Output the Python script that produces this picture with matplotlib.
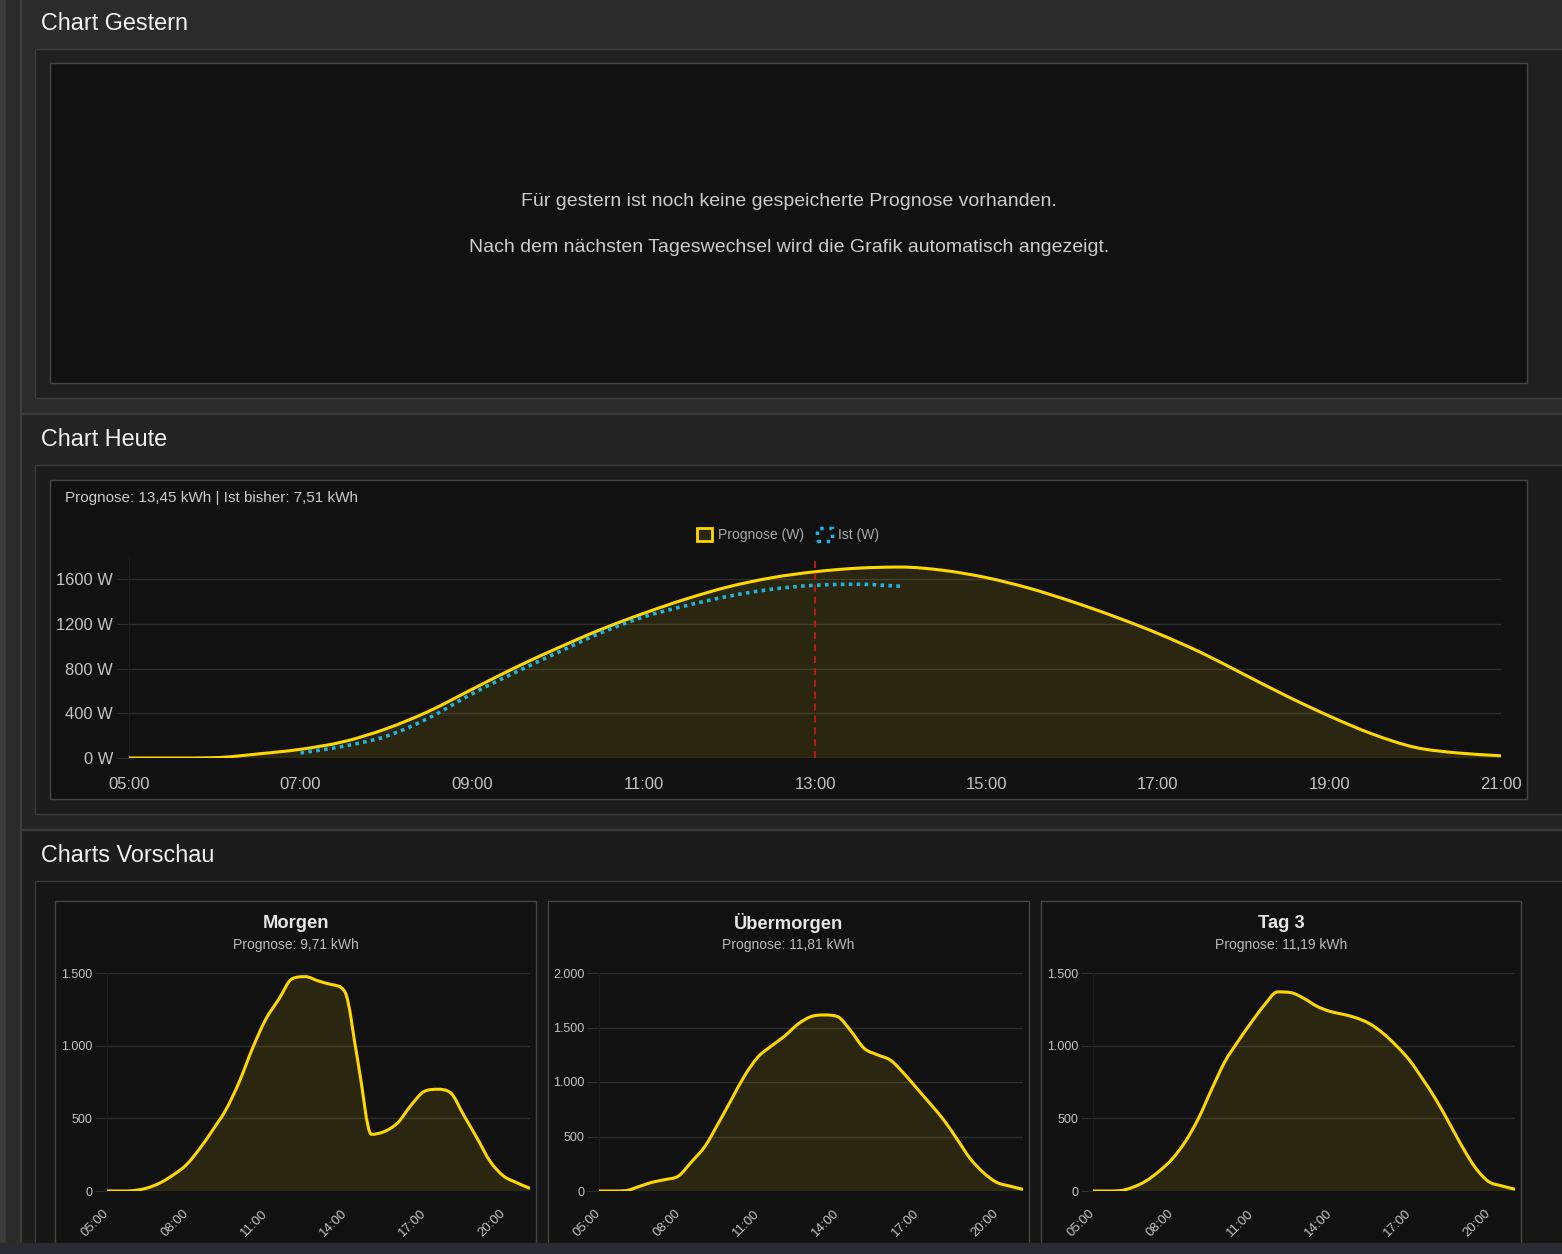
import numpy as np
import matplotlib
matplotlib.use("Agg")
import matplotlib.pyplot as plt
from matplotlib.patches import Rectangle, Patch, PathPatch
from matplotlib.path import Path
from matplotlib.ticker import FuncFormatter

plt.rcParams['font.family'] = ['Liberation Sans', 'DejaVu Sans']

# Zeitachse (halbstuendlich, 05:00 bis 21:00)
hours = np.arange(5, 21.01, 0.5)

# Chart Heute
heute_prognose = [0, 0, 3, 36, 78, 146, 262, 420, 615, 808, 985, 1150, 1295, 1425,
                  1535, 1615, 1668, 1700, 1710, 1680, 1615, 1520, 1400, 1265, 1115,
                  945, 750, 555, 375, 215, 95, 45, 20]
ist_hours = np.arange(7, 14.01, 0.5)
heute_ist = [45, 105, 195, 360, 575, 765, 945, 1120, 1263, 1365, 1450, 1512, 1547, 1556, 1538]
jetzt = 13.0
heute_ticks = [5, 7, 9, 11, 13, 15, 17, 19, 21]
heute_yticks = [0, 400, 800, 1200, 1600]

# Charts Vorschau
vorschau_titel = ["Morgen", "Übermorgen", "Tag 3"]
vorschau_summe = ["Prognose: 9,71 kWh", "Prognose: 11,81 kWh", "Prognose: 11,19 kWh"]
morgen = [0, 0, 3, 20, 55, 110, 180, 290, 420, 560, 750, 980, 1180, 1320, 1460, 1475,
          1445, 1420, 1370, 880, 390, 410, 470, 590, 685, 700, 675, 520, 363, 202, 103, 57, 18]
uebermorgen = [0, 0, 3, 40, 80, 105, 138, 270, 410, 620, 840, 1060, 1230, 1330, 1420, 1530,
               1600, 1615, 1600, 1470, 1310, 1250, 1200, 1080, 940, 800, 655, 480, 300, 170,
               80, 45, 15]
tag3 = [0, 0, 2, 25, 68, 135, 220, 340, 500, 700, 890, 1030, 1160, 1280, 1370, 1365, 1325,
        1270, 1235, 1215, 1190, 1150, 1085, 1000, 900, 770, 630, 470, 305, 160, 65, 35, 12]
vorschau_werte = [morgen, uebermorgen, tag3]
vorschau_ymax = [1500, 2000, 1500]
vorschau_ticks = [5, 8, 11, 14, 17, 20]

GELB = '#ffd700'
BLAU = '#1cb4e3'
GRID = '#2e2e2e'
FILL_ALPHA = 0.11

W, H = 1562, 1254
fig = plt.figure(figsize=(W / 100, H / 100), dpi=100)
fig.patch.set_facecolor('#1a1a1a')


def box(x0, y0, x1, y1, fc, ec=None, lw=1.0, z=-5):
    fig.patches.append(Rectangle((x0 / W, 1 - y1 / H), (x1 - x0) / W, (y1 - y0) / H,
                                 transform=fig.transFigure, facecolor=fc,
                                 edgecolor=ec if ec else fc, lw=lw, zorder=z))


def axes_px(x0, y0, x1, y1):
    ax = fig.add_axes([x0 / W, 1 - y1 / H, (x1 - x0) / W, (y1 - y0) / H])
    ax.set_facecolor('none')
    return ax


def ftext(x, y, s, **kw):
    fig.text(x / W, 1 - y / H, s, **kw)


def kurve(x, y):
    # monotone kubische Kurve wie bei Chart.js (cubicInterpolationMode: 'monotone')
    x = np.asarray(x, float)
    y = np.asarray(y, float)
    h = np.diff(x)
    d = np.diff(y) / h
    m = np.zeros_like(y)
    m[0], m[-1] = d[0], d[-1]
    for k in range(1, len(y) - 1):
        m[k] = 0 if d[k - 1] * d[k] <= 0 else (d[k - 1] + d[k]) / 2
    for k in range(len(d)):
        if d[k] == 0:
            m[k] = m[k + 1] = 0
            continue
        a, b = m[k] / d[k], m[k + 1] / d[k]
        s = a * a + b * b
        if s > 9:
            t = 3 / np.sqrt(s)
            m[k], m[k + 1] = t * a * d[k], t * b * d[k]
    verts = [(x[0], y[0])]
    codes = [Path.MOVETO]
    for k in range(len(h)):
        verts += [(x[k] + h[k] / 3, y[k] + m[k] * h[k] / 3),
                  (x[k + 1] - h[k] / 3, y[k + 1] - m[k + 1] * h[k] / 3),
                  (x[k + 1], y[k + 1])]
        codes += [Path.CURVE4] * 3
    return verts, codes


def zeichne(ax, x, y, color, lw, ls='-', fill=False):
    verts, codes = kurve(x, y)
    if fill:
        fv = verts + [(x[-1], 0), (x[0], 0), (x[0], 0)]
        fc = codes + [Path.LINETO, Path.LINETO, Path.CLOSEPOLY]
        ax.add_patch(PathPatch(Path(fv, fc), facecolor=color, alpha=FILL_ALPHA,
                               lw=0, zorder=2))
    ax.add_patch(PathPatch(Path(verts, codes), facecolor='none', edgecolor=color,
                           lw=lw, linestyle=ls, zorder=3, capstyle='butt'))


# Seitenhintergrund
box(0, 0, 6, H, '#3b3b3b', z=-6)
box(6, 0, 20, H, '#2a2a2a', z=-6)
box(20, 0, W + 5, 413, '#2b2b2b', z=-6)
box(20, 413, W + 5, 829, '#242424', z=-6)
box(20, 829, W + 5, H, '#1c1c1c', z=-6)
box(19.5, -5, 20.5, H + 5, '#3d3d3d', z=-5.5)
box(20, 412.5, W + 5, 413.5, '#3a3a3a', z=-5.5)
box(20, 828.5, W + 5, 829.5, '#3a3a3a', z=-5.5)

# Aussenboxen
box(35, 49, W + 5, 398, '#202020', '#3a3a3a', z=-5)
box(35, 465, W + 5, 814, '#1c1c1c', '#3a3a3a', z=-5)
box(35, 881, W + 5, H + 5, '#161616', '#3a3a3a', z=-5)

# Innere Panels
box(50, 63, 1527, 383, '#111111', '#454545', z=-4)
box(50, 480, 1527, 799, '#111111', '#454545', z=-4)
panels = [(55, 536), (548, 1029), (1041, 1521)]
for px0, px1 in panels:
    box(px0, 901, px1, H + 5, '#111111', '#454545', z=-4)
box(-2, 1243, W + 2, H + 2, '#2a2a33', z=10)

# Ueberschriften
for y, s in [(24, "Chart Gestern"), (440, "Chart Heute"), (856, "Charts Vorschau")]:
    ftext(41, y, s, color='#f2f2f2', fontsize=16.8, va='center', ha='left')

ftext(789, 202, "Für gestern ist noch keine gespeicherte Prognose vorhanden.",
      color='#cccccc', fontsize=14, ha='center', va='center')
ftext(789, 248, "Nach dem nächsten Tageswechsel wird die Grafik automatisch angezeigt.",
      color='#cccccc', fontsize=14, ha='center', va='center')

# Chart Heute
ax = axes_px(129, 557, 1501, 758)
zeichne(ax, hours, heute_prognose, GELB, 2.2, fill=True)
zeichne(ax, ist_hours, heute_ist, BLAU, 2.6, ls=(0, (1, 1.2)))
ax.axvline(jetzt, color='#b31b1b', lw=1.5, linestyle=(0, (3.3, 2.4)), zorder=5)
ax.set_xlim(5, 21)
ax.set_ylim(0, 1800)
ax.set_xticks(heute_ticks)
ax.set_xticklabels([f"{h:02d}:00" for h in heute_ticks])
ax.set_yticks(heute_yticks)
ax.set_yticklabels([f"{v} W" for v in heute_yticks])
ax.grid(axis='y', color=GRID, lw=1, zorder=0)
ax.set_axisbelow(True)
for s in ['top', 'right', 'bottom']:
    ax.spines[s].set_visible(False)
ax.spines['left'].set_color('#1c1c1c')
ax.tick_params(axis='y', length=8.6, color=GRID, pad=3, labelsize=11.9, labelcolor='#c4c4c4')
ax.tick_params(axis='x', length=0, pad=14, labelsize=12, labelcolor='#c4c4c4')

ftext(65, 498, "Prognose: 13,45 kWh | Ist bisher: 7,51 kWh", color='#cccccc',
      fontsize=11, ha='left', va='center')
handles = [Patch(facecolor=(1, 0.84, 0, FILL_ALPHA), edgecolor=GELB, lw=2, label='Prognose (W)'),
           Patch(facecolor='none', edgecolor=BLAU, lw=2.5, linestyle=':', label='Ist (W)')]
fig.legend(handles=handles, loc='center', bbox_to_anchor=(788 / W, 1 - 535 / H), ncol=2,
           frameon=False, fontsize=10, labelcolor='#aaaaaa', handlelength=1.1,
           handleheight=1.1, handletextpad=0.45, columnspacing=0.9)

# Charts Vorschau
vorschau_ax = [(107, 530), (599, 1023), (1093, 1515)]
fmt = FuncFormatter(lambda v, p: f"{int(v):,}".replace(",", "."))
for (ax0, ax1), (px0, px1), titel, summe, werte, ymax in zip(
        vorschau_ax, panels, vorschau_titel, vorschau_summe, vorschau_werte, vorschau_ymax):
    a = axes_px(ax0, 973, ax1, 1191)
    zeichne(a, hours, werte, GELB, 2.2, fill=True)
    a.set_xlim(5, 21)
    a.set_ylim(0, ymax)
    a.set_yticks(np.arange(0, ymax + 1, 500))
    a.yaxis.set_major_formatter(fmt)
    a.set_xticks(vorschau_ticks)
    a.set_xticklabels([f"{h:02d}:00" for h in vorschau_ticks], rotation=45,
                      ha='right', va='center', rotation_mode='anchor')
    a.grid(axis='y', color=GRID, lw=1, zorder=0)
    a.set_axisbelow(True)
    for s in ['top', 'right', 'bottom']:
        a.spines[s].set_visible(False)
    a.spines['left'].set_color('#1c1c1c')
    a.tick_params(axis='y', length=8.6, color=GRID, pad=2, labelsize=9, labelcolor='#c4c4c4')
    a.tick_params(axis='x', length=0, pad=15, labelsize=9.5, labelcolor='#c4c4c4')
    cx = (px0 + px1) / 2
    ftext(cx, 921, titel, color='#e6e6e6', fontsize=13.2, fontweight='bold',
          ha='center', va='center_baseline')
    ftext(cx, 944, summe, color='#bbbbbb', fontsize=10, ha='center', va='center_baseline')

fig.savefig('out.png', dpi=100, facecolor=fig.get_facecolor())
